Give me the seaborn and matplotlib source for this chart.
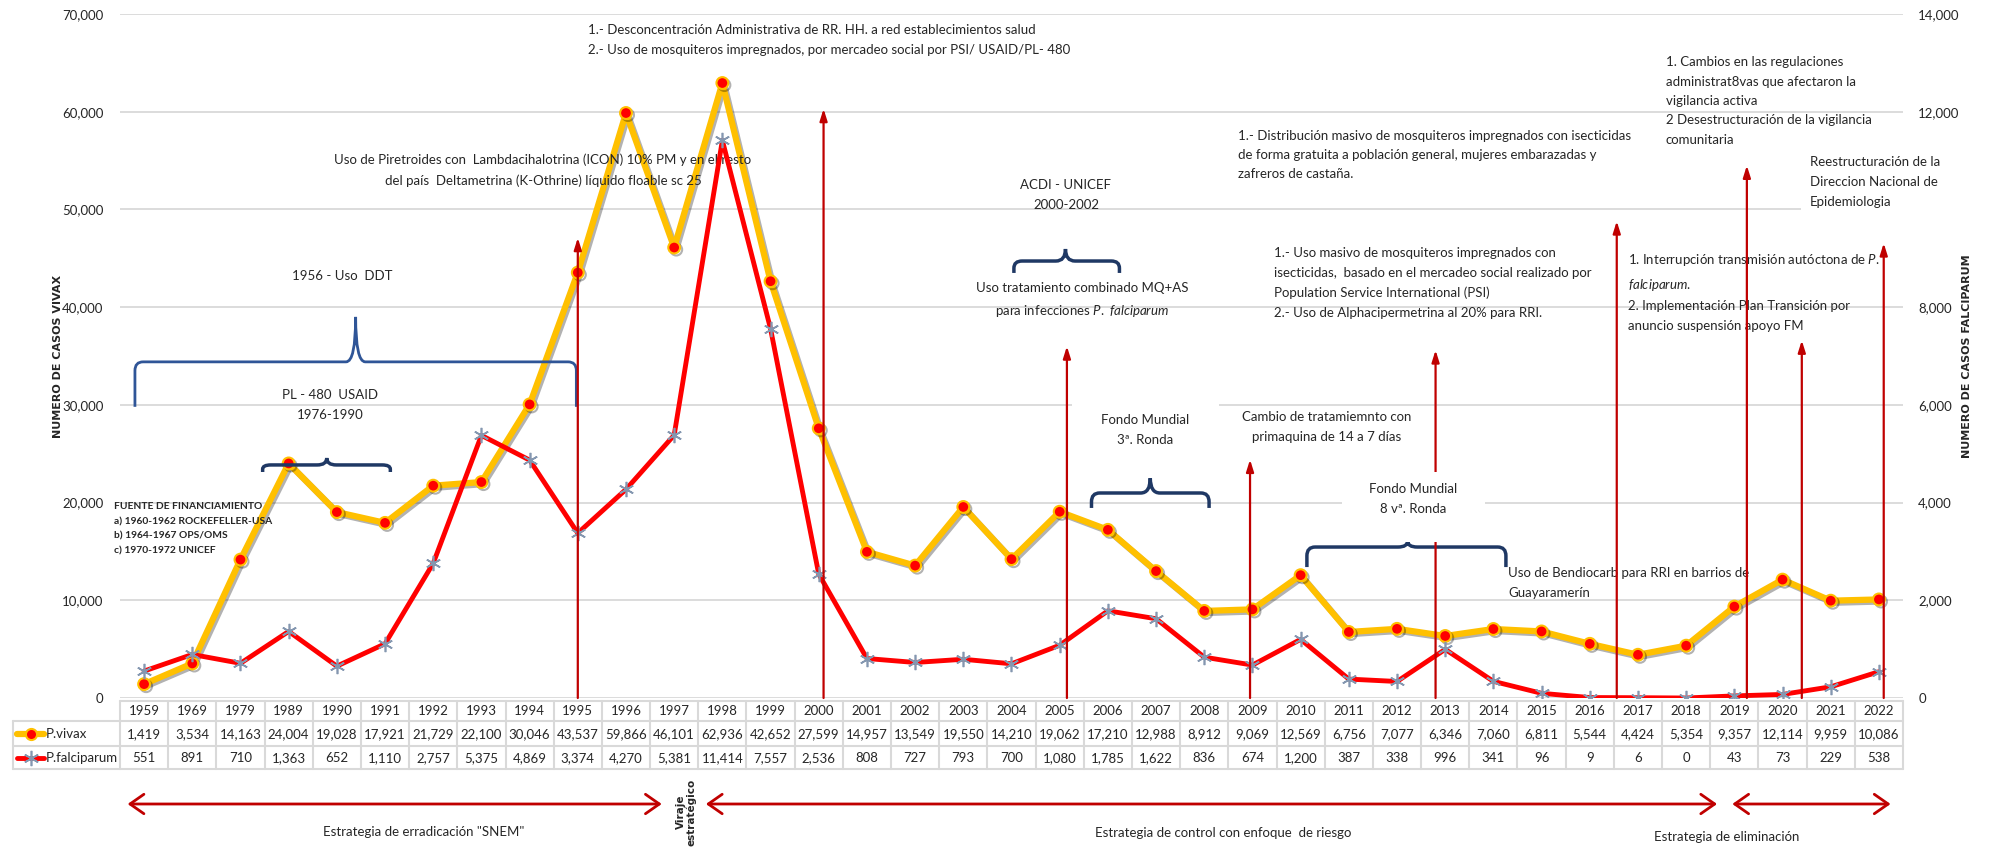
import numpy as np
import pandas as pd
import matplotlib
matplotlib.use('Agg')
import matplotlib.pyplot as plt
import matplotlib.transforms as mtransforms
import matplotlib.patheffects as pe
from matplotlib.path import Path
from matplotlib.patches import PathPatch, FancyArrowPatch, Rectangle
from matplotlib.lines import Line2D
from matplotlib.ticker import FuncFormatter
import seaborn as sns

years = ['1959', '1969', '1979'] + [str(y) for y in range(1989, 2023)]
vivax = [1419, 3534, 14163, 24004, 19028, 17921, 21729, 22100, 30046, 43537,
         59866, 46101, 62936, 42652, 27599, 14957, 13549, 19550, 14210, 19062,
         17210, 12988, 8912, 9069, 12569, 6756, 7077, 6346, 7060, 6811,
         5544, 4424, 5354, 9357, 12114, 9959, 10086]
falciparum = [551, 891, 710, 1363, 652, 1110, 2757, 5375, 4869, 3374,
              4270, 5381, 11414, 7557, 2536, 808, 727, 793, 700, 1080,
              1785, 1622, 836, 674, 1200, 387, 338, 996, 341, 96,
              9, 6, 0, 43, 73, 229, 538]

# intervention arrows (column position, height on the vivax scale)
arrow_x = [9, 14.1, 19.15, 22.95, 26.8, 30.56, 33.26, 34.4, 36.1]
arrow_top = [47100, 60300, 36000, 24400, 35600, 48800, 54500, 36600, 46550]

# curly braces: x0, xc, x1, y_end, y_mid, y_peak, color, lw
braces = [
    (-0.19, 4.39, 8.97, 29800, 34400, 39000, '#2F5597', 2.0),
    (2.46, 3.79, 5.11, 23130, 23850, 24560, '#1F3864', 2.5),
    (18.05, 19.12, 20.24, 43500, 44720, 45950, '#1F3864', 2.5),
    (19.66, 20.88, 22.10, 19450, 20980, 22500, '#1F3864', 2.5),
    (24.13, 26.22, 28.26, 13400, 15450, 16070, '#1F3864', 2.5),
]

W, H = 1989, 850
FONT = ['Lato', 'DejaVu Sans']

sns.set_style('white')
plt.rcParams['font.family'] = FONT
plt.rcParams['mathtext.fontset'] = 'custom'
plt.rcParams['mathtext.rm'] = 'Lato'
plt.rcParams['mathtext.it'] = 'Lato:italic'
plt.rcParams['mathtext.bf'] = 'Lato:bold'


def fx(x):
    return x / W


def fy(y):
    return 1 - y / H


df = pd.DataFrame({'idx': np.arange(len(years)), 'year': years,
                   'vivax': vivax, 'falciparum': falciparum})

fig = plt.figure(figsize=(W / 100, H / 100), dpi=100)
ax = fig.add_axes([fx(120), fy(698), (1903 - 120) / W, (698 - 14) / H])
ax2 = ax.twinx()

sns.lineplot(data=df, x='idx', y='vivax', ax=ax, color='#FFC000', linewidth=4.5,
             marker='o', markersize=8.5, markerfacecolor='#FF0000',
             markeredgecolor='#FFC000', markeredgewidth=1.5, zorder=3,
             path_effects=[pe.SimpleLineShadow(offset=(1.5, -1.5), alpha=0.3), pe.Normal()])
sns.lineplot(data=df, x='idx', y='falciparum', ax=ax2, color='#FF0000', linewidth=3.5,
             marker=(6, 2, 0), markersize=11, markeredgecolor='#8497B0',
             markeredgewidth=1.2, zorder=3)

ax.set_xlim(-0.5, len(years) - 0.5)
ax.set_ylim(0, 70000)
ax2.set_ylim(0, 14000)
ax.set_yticks(range(0, 70001, 10000))
ax2.set_yticks(range(0, 14001, 2000))
fmt = FuncFormatter(lambda v, p: f'{int(v):,}')
ax.yaxis.set_major_formatter(fmt)
ax2.yaxis.set_major_formatter(fmt)
ax.set_xticks([])
ax.set_xlabel('')
ax.set_ylabel('')
ax2.set_ylabel('')
ax.tick_params(axis='y', length=0, pad=12, labelsize=9.5)
ax2.tick_params(axis='y', length=0, pad=11, labelsize=9.5)
ax.grid(axis='y', color='#D9D9D9', linewidth=1.3)
ax.set_axisbelow(True)
for a in (ax, ax2):
    for s in a.spines.values():
        s.set_visible(False)

fig.text(fx(58), fy(356), 'NUMERO DE CASOS VIVAX', rotation=90, ha='center', va='center',
         fontsize=8, fontweight='bold', family='DejaVu Sans')
fig.text(fx(1967), fy(356), 'NUMERO DE CASOS FALCIPARUM', rotation=90, ha='center', va='center',
         fontsize=8, fontweight='bold', family='DejaVu Sans')

# intervention arrows
for x, top in zip(arrow_x, arrow_top):
    ax2.annotate('', xy=(x, top), xytext=(x, 0), xycoords=ax.transData, textcoords=ax.transData,
                 arrowprops=dict(arrowstyle='-|>,head_length=0.7,head_width=0.22', color='#C00000',
                                 lw=1.6, shrinkA=0, shrinkB=0), zorder=4)


def brace(x0, xc, x1, yb, ym, yp, color, lw):
    rx, tx = 0.17, 0.2
    ry = min(900, 0.6 * (ym - yb))
    verts = [(x0, yb), (x0, ym - ry), (x0, ym), (x0 + rx, ym),
             (xc - tx, ym), (xc, ym), (xc, yp), (xc, ym), (xc + tx, ym),
             (x1 - rx, ym), (x1, ym), (x1, ym - ry), (x1, yb)]
    codes = [Path.MOVETO, Path.LINETO, Path.CURVE3, Path.CURVE3,
             Path.LINETO, Path.CURVE3, Path.CURVE3, Path.CURVE3, Path.CURVE3,
             Path.LINETO, Path.CURVE3, Path.CURVE3, Path.LINETO]
    patch = PathPatch(Path(verts, codes), facecolor='none', edgecolor=color, lw=lw,
                      transform=ax.transData, zorder=2, clip_on=False)
    ax2.add_patch(patch)


for b in braces:
    brace(*b)

# white boxes behind some of the notes (they hide gridlines / arrows as in the source)
for x0, y0, x1, y1 in [(1072, 395, 1219, 465), (1342, 472, 1485, 542), (1801, 148, 1961, 218)]:
    ax2.add_patch(Rectangle((fx(x0), fy(y1)), (x1 - x0) / W, (y1 - y0) / H, transform=fig.transFigure,
                            facecolor='white', edgecolor='none', zorder=5, clip_on=False))

FS = 9.5
LS = 1.75
notes = [
    (588, 40, '1.- Desconcentración Administrativa de RR. HH. a red establecimientos salud\n'
              '2.- Uso de mosquiteros impregnados, por mercadeo social por PSI/ USAID/PL- 480', 'left', False),
    (543, 170, 'Uso de Piretroides con  Lambdacihalotrina (ICON) 10% PM y en el resto\n'
               'del país  Deltametrina (K-Othrine) líquido floable sc 25', 'center', False),
    (342, 276, '1956 - Uso  DDT', 'center', False),
    (330, 405, 'PL - 480  USAID\n1976-1990', 'center', False),
    (1066, 195, 'ACDI - UNICEF\n2000-2002', 'center', False),
    (1082, 300, 'Uso tratamiento combinado MQ+AS\npara infecciones $\\it{P.\\ falciparum}$', 'center', False),
    (1238, 155, '1.- Distribución masivo de mosquiteros impregnados con isecticidas\n'
                'de forma gratuita a población general, mujeres embarazadas y\nzafreros de castaña.', 'left', False),
    (1666, 101, '1. Cambios en las regulaciones\nadministrat8vas que afectaron la\nvigilancia activa\n'
                '2 Desestructuración de la vigilancia\ncomunitaria', 'left', False),
    (1810, 182, 'Reestructuración de la\nDireccion Nacional de\nEpidemiologia', 'left', True),
    (1274, 283, '1.- Uso masivo de mosquiteros impregnados con\n'
                'isecticidas,  basado en el mercadeo social realizado por\n'
                'Population Service International (PSI)\n2.- Uso de Alphacipermetrina al 20% para RRI.', 'left', False),
    (1628, 292, '1. Interrupción transmisión autóctona de $\\it{P.}$\n$\\it{falciparum.}$\n'
                '2. Implementación Plan Transición por\nanuncio suspensión apoyo FM', 'left', False),
    (1145, 430, 'Fondo Mundial\n3ª. Ronda', 'center', True),
    (1327, 427, 'Cambio de tratamiemnto con\nprimaquina de 14 a 7 días', 'center', False),
    (1413, 499, 'Fondo Mundial\n8 vª. Ronda', 'center', True),
    (1508, 583, 'Uso de Bendiocarb para RRI en barrios de\nGuayaramerín', 'left', False),
]
for x, y, s, ha, boxed in notes:
    ax2.text(fx(x), fy(y), s, transform=fig.transFigure, ha=ha, va='center', multialignment=ha,
             fontsize=FS, linespacing=LS, zorder=6 if boxed else 2)

ax2.text(fx(114), fy(529), 'FUENTE DE FINANCIAMIENTO\na) 1960-1962 ROCKEFELLER-USA\n'
         'b) 1964-1967 OPS/OMS\nc) 1970-1972 UNICEF', transform=fig.transFigure,
         ha='left', va='center', fontsize=7.4, fontweight='bold', linespacing=1.8, zorder=2)

# data table under the plot
btf = mtransforms.blended_transform_factory(ax.transData, fig.transFigure)
grid_c = '#D9D9D9'
n = len(years)
x_left = -0.5
x_right = n - 0.5
lab_left = x_left - 107 / 48.27
rows_y = [701, 721, 746, 769]
fig.add_artist(Line2D([x_left, x_right], [fy(rows_y[0])] * 2, transform=btf, color=grid_c, lw=1.5))
for yy in rows_y[1:]:
    fig.add_artist(Line2D([lab_left, x_right], [fy(yy)] * 2, transform=btf, color=grid_c, lw=1.5))
for k in range(n + 1):
    fig.add_artist(Line2D([x_left + k] * 2, [fy(701), fy(769)], transform=btf, color=grid_c, lw=1.5))
fig.add_artist(Line2D([lab_left] * 2, [fy(721), fy(769)], transform=btf, color=grid_c, lw=1.5))

for i in range(n):
    fig.text(i, fy(711), years[i], transform=btf, ha='center', va='center', fontsize=9.5)
    fig.text(i, fy(734), f'{vivax[i]:,}', transform=btf, ha='center', va='center', fontsize=9.5)
    fig.text(i, fy(758), f'{falciparum[i]:,}', transform=btf, ha='center', va='center', fontsize=9.5)

fig.add_artist(Line2D([fx(17), fx(44)], [fy(734)] * 2, transform=fig.transFigure, color='#FFC000',
                      lw=4.5))
fig.add_artist(Line2D([fx(30.5)], [fy(734)], transform=fig.transFigure, marker='o', markersize=8,
                      markerfacecolor='#FF0000', markeredgecolor='#FFC000', markeredgewidth=1.5))
fig.add_artist(Line2D([fx(17), fx(44)], [fy(758)] * 2, transform=fig.transFigure, color='#FF0000',
                      lw=3.5))
fig.add_artist(Line2D([fx(30.5)], [fy(758)], transform=fig.transFigure, marker=(6, 2, 0), markersize=11,
                      markeredgecolor='#8497B0', markeredgewidth=1.2))
fig.text(fx(46), fy(734), 'P.vivax', ha='left', va='center', fontsize=9.5)
fig.text(fx(46), fy(758), 'P.falciparum', ha='left', va='center', fontsize=9.5)

# strategy periods
periods = [(-0.4, 10.8, 'Estrategia de erradicación "SNEM"', 5.8, 832),
           (11.6, 32.7, 'Estrategia de control con enfoque  de riesgo', 22.4, 833),
           (32.9, 36.3, 'Estrategia de eliminación', 32.85, 837)]
for x0, x1, label, tx, ty in periods:
    fig.add_artist(FancyArrowPatch((x0, fy(804)), (x1, fy(804)), transform=btf,
                                   arrowstyle='<->,head_length=0.5,head_width=0.35',
                                   mutation_scale=20, color='#C00000', lw=2))
    fig.text(tx, fy(ty), label, transform=btf, ha='center', va='center', fontsize=9.5)
fig.text(11.25, fy(812), 'Viraje\nestratégico', transform=btf, rotation=90, ha='center',
         va='center', fontsize=7.5, fontweight='bold', family='DejaVu Sans', linespacing=1.0)

fig.savefig('out.png', dpi=100)
